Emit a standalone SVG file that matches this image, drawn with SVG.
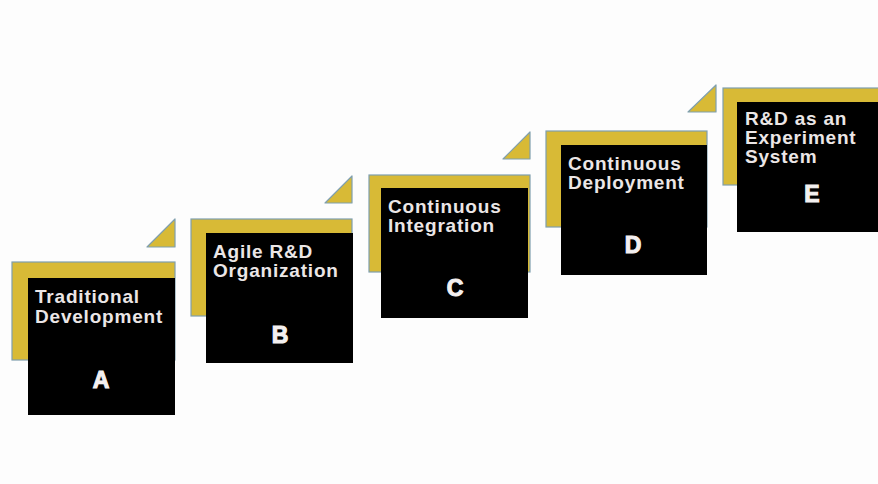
<svg xmlns="http://www.w3.org/2000/svg" width="878" height="484" viewBox="0 0 878 484">
  <style>
    .band { fill: #d8ba36; stroke: #7f9fae; stroke-width: 1.2; }
    .tab { fill: #d8ba36; stroke: #7f9fae; stroke-width: 1.2; stroke-linejoin: round; }
    .card { fill: #000; }
    .title { font-family: "Liberation Sans", Arial, sans-serif; font-weight: bold; font-size: 19px; letter-spacing: 0.8px; fill: #ebe6e6; }
    .letter { font-family: "Liberation Sans", Arial, sans-serif; font-weight: bold; font-size: 23px; fill: #f4f0f0; stroke: #f4f0f0; stroke-width: 1.1; text-anchor: middle; }
  </style>
  <rect width="878" height="484" fill="#fdfdfd"/>

  <!-- Step A -->
  <g id="step-a">
    <rect class="band" x="12" y="262" width="163" height="98"/>
    <rect class="card" x="28" y="278" width="147" height="137"/>
    <polygon class="tab" points="147,247 175,219 175,247"/>
    <text class="title" x="35" y="303">Traditional</text>
    <text class="title" x="35" y="323">Development</text>
    <text class="letter" x="101" y="388">A</text>
  </g>

  <!-- Step B -->
  <g id="step-b">
    <rect class="band" x="191" y="219" width="161" height="97"/>
    <rect class="card" x="206" y="233" width="147" height="130"/>
    <polygon class="tab" points="325,203 352,176 352,203"/>
    <text class="title" x="213" y="258">Agile R&amp;D</text>
    <text class="title" x="213" y="277">Organization</text>
    <text class="letter" x="280" y="343">B</text>
  </g>

  <!-- Step C -->
  <g id="step-c">
    <rect class="band" x="369" y="175" width="161" height="97"/>
    <rect class="card" x="381" y="188" width="147" height="130"/>
    <polygon class="tab" points="503,159 530,132 530,159"/>
    <text class="title" x="388" y="213">Continuous</text>
    <text class="title" x="388" y="232">Integration</text>
    <text class="letter" x="455" y="296">C</text>
  </g>

  <!-- Step D -->
  <g id="step-d">
    <rect class="band" x="546" y="131" width="161" height="96"/>
    <rect class="card" x="561" y="145" width="146" height="130"/>
    <polygon class="tab" points="688,112 716,85 716,112"/>
    <text class="title" x="568" y="170">Continuous</text>
    <text class="title" x="568" y="189">Deployment</text>
    <text class="letter" x="633" y="253">D</text>
  </g>

  <!-- Step E -->
  <g id="step-e">
    <rect class="band" x="723" y="88" width="160" height="97"/>
    <rect class="card" x="737" y="102" width="146" height="130"/>
    <text class="title" x="745" y="125">R&amp;D as an</text>
    <text class="title" x="745" y="144">Experiment</text>
    <text class="title" x="745" y="163">System</text>
    <text class="letter" x="812" y="202">E</text>
  </g>
</svg>
